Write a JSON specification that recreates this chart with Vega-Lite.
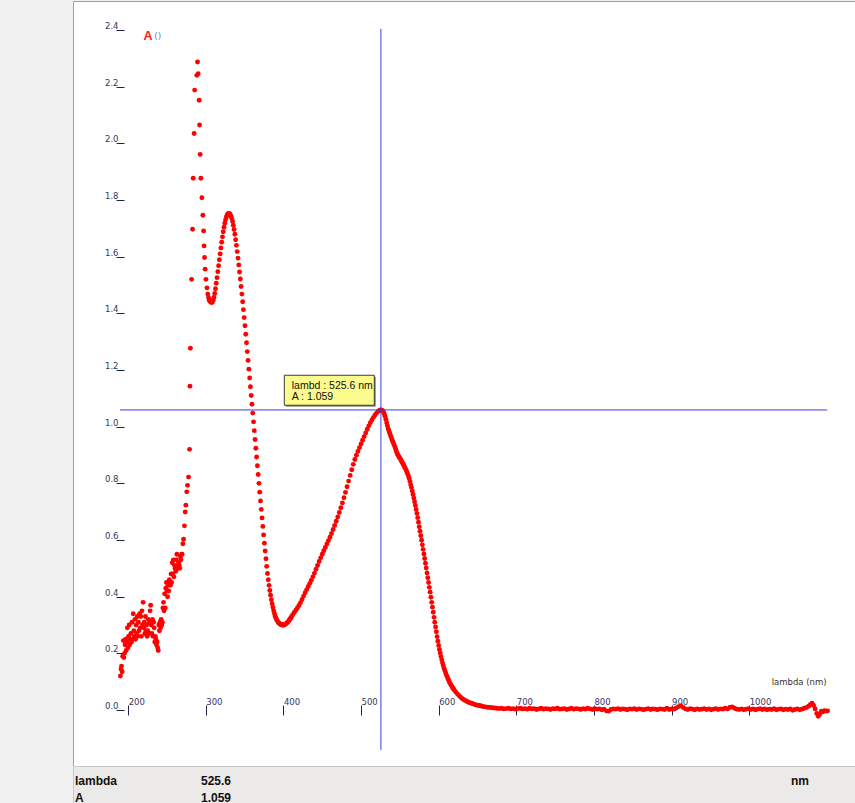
{
"$schema": "https://vega.github.io/schema/vega-lite/v6.json",
"background": "#f0f0f0",
"padding": {"left": 72, "top": 0, "right": 0, "bottom": 0},
"spacing": 0,
"bounds": "flush",
"config": {"view": {"stroke": null}, "font": "DejaVu Sans"},
"datasets": {
"spec": [
{"l":190,"a":0.12},{"l":190.8,"a":0.145},{"l":191.5,"a":0.155},{"l":192.3,"a":0.135},{"l":193,"a":0.19},{"l":193.8,"a":0.245},{"l":194.5,"a":0.185},{"l":195.3,"a":0.2},{"l":196,"a":0.23},{"l":196.8,"a":0.25},{"l":197.5,"a":0.21},{"l":198.3,"a":0.24},{"l":199,"a":0.29},{"l":199.8,"a":0.22},{"l":200.5,"a":0.26},{"l":201.3,"a":0.3},{"l":202,"a":0.23},{"l":202.8,"a":0.25},{"l":203.5,"a":0.27},{"l":204.3,"a":0.24},{"l":205,"a":0.31},{"l":205.8,"a":0.25},{"l":206.5,"a":0.34},{"l":207.3,"a":0.28},{"l":208,"a":0.26},{"l":208.8,"a":0.32},{"l":209.5,"a":0.25},{"l":210.3,"a":0.3},{"l":211,"a":0.27},{"l":211.8,"a":0.33},{"l":212.5,"a":0.26},{"l":213.3,"a":0.31},{"l":214,"a":0.28},{"l":214.8,"a":0.34},{"l":215.5,"a":0.29},{"l":216.3,"a":0.33},{"l":217,"a":0.26},{"l":217.8,"a":0.35},{"l":218.5,"a":0.3},{"l":219.3,"a":0.38},{"l":220,"a":0.29},{"l":220.8,"a":0.31},{"l":221.5,"a":0.27},{"l":222.3,"a":0.33},{"l":223,"a":0.28},{"l":223.8,"a":0.3},{"l":224.5,"a":0.26},{"l":225.3,"a":0.28},{"l":226,"a":0.32},{"l":226.8,"a":0.27},{"l":227.5,"a":0.31},{"l":228.3,"a":0.35},{"l":229,"a":0.37},{"l":229.8,"a":0.3},{"l":230.5,"a":0.27},{"l":231.3,"a":0.32},{"l":232,"a":0.26},{"l":232.8,"a":0.31},{"l":233.5,"a":0.29},{"l":234.3,"a":0.24},{"l":235,"a":0.26},{"l":235.8,"a":0.25},{"l":236.5,"a":0.23},{"l":237.3,"a":0.24},{"l":238,"a":0.22},{"l":238.8,"a":0.21},{"l":239.5,"a":0.3},{"l":240.3,"a":0.28},{"l":241,"a":0.31},{"l":241.8,"a":0.29},{"l":242.5,"a":0.32},{"l":243.3,"a":0.3},{"l":244,"a":0.31},{"l":244.8,"a":0.36},{"l":245.5,"a":0.38},{"l":246.3,"a":0.35},{"l":247,"a":0.41},{"l":247.8,"a":0.36},{"l":248.5,"a":0.43},{"l":249.3,"a":0.45},{"l":250,"a":0.42},{"l":250.8,"a":0.4},{"l":251.5,"a":0.44},{"l":252.3,"a":0.42},{"l":253,"a":0.46},{"l":253.8,"a":0.45},{"l":254.5,"a":0.44},{"l":255.3,"a":0.48},{"l":256,"a":0.45},{"l":256.8,"a":0.52},{"l":257.5,"a":0.48},{"l":258.3,"a":0.53},{"l":259,"a":0.47},{"l":259.8,"a":0.51},{"l":260.5,"a":0.5},{"l":261.3,"a":0.49},{"l":262,"a":0.53},{"l":262.8,"a":0.55},{"l":263.5,"a":0.51},{"l":264.3,"a":0.5},{"l":265,"a":0.52},{"l":265.8,"a":0.51},{"l":266.5,"a":0.5},{"l":267.3,"a":0.54},{"l":268,"a":0.53},{"l":268.8,"a":0.55},
{"l":269.5,"a":0.55},{"l":270.5,"a":0.587},{"l":271.4,"a":0.603},{"l":272.5,"a":0.65},{"l":273.5,"a":0.699},{"l":274.4,"a":0.723},{"l":275.5,"a":0.77},{"l":276.5,"a":0.793},{"l":277.8,"a":0.822},{"l":279.1,"a":0.92},{"l":279.6,"a":1.143},{"l":280.2,"a":1.277},{"l":281.7,"a":1.52},{"l":283,"a":1.697},{"l":283.8,"a":1.877},{"l":285,"a":2.035},{"l":285.7,"a":2.188},{"l":288.5,"a":2.24},{"l":289.4,"a":2.287},{"l":290.2,"a":2.246},{"l":291.5,"a":2.152},{"l":292,"a":2.065},{"l":292.8,"a":1.961},{"l":293.7,"a":1.877},{"l":295,"a":1.808},{"l":296.3,"a":1.746},{"l":297.2,"a":1.691},{"l":297.8,"a":1.638},{"l":298.4,"a":1.597},{"l":299.2,"a":1.556},{"l":300.2,"a":1.52},{"l":301.5,"a":1.49},{"l":302.6,"a":1.468},{"l":303.6,"a":1.455},{"l":304.6,"a":1.446},{"l":305.5,"a":1.442},
{"l":306.5,"a":1.44},{"l":307.5,"a":1.438},{"l":308.5,"a":1.44},{"l":309.5,"a":1.446},{"l":310.5,"a":1.456},{"l":311.5,"a":1.47},{"l":312.5,"a":1.487},{"l":313.5,"a":1.506},{"l":314.5,"a":1.526},{"l":315.5,"a":1.547},{"l":316.5,"a":1.568},{"l":317.5,"a":1.589},{"l":318.5,"a":1.61},{"l":319.5,"a":1.631},{"l":320.5,"a":1.651},{"l":321.5,"a":1.67},{"l":322.5,"a":1.688},{"l":323.5,"a":1.704},{"l":324.5,"a":1.718},{"l":325.5,"a":1.73},{"l":326.5,"a":1.74},{"l":327.5,"a":1.747},{"l":328.5,"a":1.751},{"l":329.5,"a":1.753},{"l":330.5,"a":1.752},{"l":331.5,"a":1.749},{"l":332.5,"a":1.743},{"l":333.5,"a":1.735},{"l":334.5,"a":1.724},{"l":335.5,"a":1.711},{"l":336.5,"a":1.696},{"l":337.5,"a":1.679},{"l":338.5,"a":1.66},{"l":339.5,"a":1.64},{"l":340.5,"a":1.618},{"l":341.5,"a":1.595},{"l":342.5,"a":1.571},{"l":343.5,"a":1.546},{"l":344.5,"a":1.521},{"l":345.5,"a":1.495},{"l":346.5,"a":1.468},{"l":347.5,"a":1.441},{"l":348.5,"a":1.413},{"l":349.5,"a":1.385},{"l":350.5,"a":1.356},{"l":351.5,"a":1.326},{"l":352.5,"a":1.296},{"l":353.5,"a":1.265},{"l":354.5,"a":1.234},{"l":355.5,"a":1.203},{"l":356.5,"a":1.172},{"l":357.5,"a":1.141},{"l":358.5,"a":1.11},{"l":359.5,"a":1.079},{"l":360.5,"a":1.048},{"l":361.5,"a":1.017},{"l":362.5,"a":0.986},{"l":363.5,"a":0.955},{"l":364.5,"a":0.924},{"l":365.5,"a":0.893},{"l":366.5,"a":0.862},{"l":367.5,"a":0.831},{"l":368.5,"a":0.8},{"l":369.5,"a":0.769},{"l":370.5,"a":0.738},{"l":371.5,"a":0.708},{"l":372.5,"a":0.678},{"l":373.5,"a":0.648},{"l":374.5,"a":0.618},{"l":375.5,"a":0.589},{"l":376.5,"a":0.561},{"l":377.5,"a":0.534},{"l":378.5,"a":0.507},{"l":379.5,"a":0.482},{"l":380.5,"a":0.46},{"l":381.5,"a":0.44},{"l":382.5,"a":0.422},{"l":383.5,"a":0.405},{"l":384.5,"a":0.389},{"l":385.5,"a":0.375},{"l":386.5,"a":0.362},{"l":387.5,"a":0.35},{"l":388.5,"a":0.34},{"l":389.5,"a":0.331},{"l":390.5,"a":0.324},{"l":391.5,"a":0.318},{"l":392.5,"a":0.313},{"l":393.5,"a":0.309},{"l":394.5,"a":0.306},{"l":395.5,"a":0.304},{"l":396.5,"a":0.302},{"l":397.5,"a":0.301},{"l":398.5,"a":0.3},{"l":399.5,"a":0.3},{"l":400.5,"a":0.3},{"l":401.5,"a":0.301},{"l":402.5,"a":0.303},{"l":403.5,"a":0.305},{"l":404.5,"a":0.307},{"l":405.5,"a":0.31},{"l":406.5,"a":0.313},{"l":407.5,"a":0.317},{"l":408.5,"a":0.321},{"l":409.5,"a":0.325},{"l":410.5,"a":0.329},
{"l":412,"a":0.336},{"l":414,"a":0.344},{"l":416,"a":0.352},{"l":418,"a":0.36},{"l":420,"a":0.369},{"l":422,"a":0.379},{"l":424,"a":0.39},{"l":426,"a":0.402},{"l":428,"a":0.414},{"l":430,"a":0.425},{"l":432,"a":0.436},{"l":434,"a":0.447},{"l":436,"a":0.458},{"l":438,"a":0.47},{"l":440,"a":0.483},{"l":442,"a":0.497},{"l":444,"a":0.51},{"l":446,"a":0.524},{"l":448,"a":0.537},{"l":450,"a":0.55},{"l":452,"a":0.562},{"l":454,"a":0.574},{"l":456,"a":0.586},{"l":458,"a":0.598},{"l":460,"a":0.61},{"l":462,"a":0.623},{"l":464,"a":0.637},{"l":466,"a":0.651},{"l":468,"a":0.666},{"l":470,"a":0.681},{"l":472,"a":0.697},{"l":474,"a":0.714},{"l":476,"a":0.731},{"l":478,"a":0.749},{"l":480,"a":0.768},{"l":482,"a":0.788},{"l":484,"a":0.808},{"l":486,"a":0.828},{"l":488,"a":0.848},{"l":490,"a":0.867},{"l":492,"a":0.884},{"l":494,"a":0.899},{"l":496,"a":0.913},{"l":498,"a":0.926},{"l":500,"a":0.939},{"l":502,"a":0.952},{"l":504,"a":0.965},{"l":506,"a":0.978},{"l":508,"a":0.991},{"l":510,"a":1.003},{"l":512,"a":1.014},{"l":514,"a":1.024},{"l":516,"a":1.033},{"l":518,"a":1.041},{"l":520,"a":1.048},{"l":522,"a":1.054},{"l":524,"a":1.058},{"l":525.6,"a":1.059},
{"l":527,"a":1.058},{"l":528,"a":1.055},{"l":529,"a":1.051},{"l":530,"a":1.045},{"l":531,"a":1.037},{"l":532,"a":1.026},{"l":533,"a":1.014},{"l":534,"a":1.003},{"l":535,"a":0.993},{"l":536,"a":0.985},{"l":537,"a":0.977},{"l":538,"a":0.969},{"l":539,"a":0.961},{"l":540,"a":0.953},{"l":541,"a":0.946},{"l":542,"a":0.94},{"l":543,"a":0.934},{"l":544,"a":0.926},{"l":545,"a":0.918},{"l":546,"a":0.91},{"l":547,"a":0.903},{"l":548,"a":0.898},{"l":549,"a":0.893},{"l":550,"a":0.889},{"l":551,"a":0.884},{"l":552,"a":0.879},{"l":553,"a":0.874},{"l":554,"a":0.869},{"l":555,"a":0.864},{"l":556,"a":0.858},{"l":557,"a":0.853},{"l":558,"a":0.847},{"l":559,"a":0.84},{"l":560,"a":0.833},{"l":561,"a":0.826},{"l":562,"a":0.818},{"l":563,"a":0.807},{"l":564,"a":0.795},{"l":565,"a":0.785},{"l":566,"a":0.773},{"l":567,"a":0.761},{"l":568,"a":0.748},{"l":569,"a":0.735},{"l":570,"a":0.722},{"l":571,"a":0.708},{"l":572,"a":0.694},{"l":573,"a":0.679},{"l":574,"a":0.663},{"l":575,"a":0.647},{"l":576,"a":0.631},{"l":577,"a":0.615},{"l":578,"a":0.599},{"l":579,"a":0.583},{"l":580,"a":0.567},{"l":581,"a":0.551},{"l":582,"a":0.535},{"l":583,"a":0.518},{"l":584,"a":0.501},{"l":585,"a":0.484},{"l":586,"a":0.467},{"l":587,"a":0.45},{"l":588,"a":0.433},{"l":589,"a":0.416},{"l":590,"a":0.398},{"l":591,"a":0.38},{"l":592,"a":0.363},{"l":593,"a":0.345},{"l":594,"a":0.327},{"l":595,"a":0.31},{"l":596,"a":0.293},{"l":597,"a":0.276},{"l":598,"a":0.259},{"l":599,"a":0.243},{"l":600,"a":0.228},{"l":601,"a":0.214},{"l":602,"a":0.201},{"l":603,"a":0.189},{"l":604,"a":0.177},{"l":605,"a":0.166},{"l":606,"a":0.156},{"l":607,"a":0.147},{"l":608,"a":0.139},{"l":609,"a":0.131},{"l":610,"a":0.124},{"l":611,"a":0.117},{"l":612,"a":0.11},{"l":613,"a":0.104},{"l":614,"a":0.098},{"l":615,"a":0.093},{"l":616,"a":0.088},{"l":617,"a":0.083},{"l":618,"a":0.079},{"l":619,"a":0.075},{"l":620,"a":0.071},{"l":622,"a":0.064},{"l":624,"a":0.057},{"l":626,"a":0.051},{"l":628,"a":0.046},{"l":630,"a":0.041},{"l":632,"a":0.037},{"l":634,"a":0.034},{"l":636,"a":0.031},{"l":638,"a":0.028},{"l":640,"a":0.026},{"l":642,"a":0.024},{"l":644,"a":0.022},{"l":646,"a":0.02},{"l":648,"a":0.018},{"l":650,"a":0.017},{"l":652,"a":0.016},{"l":654,"a":0.015},{"l":656,"a":0.013},{"l":658,"a":0.012},{"l":660,"a":0.011},{"l":663,"a":0.01},{"l":666,"a":0.009},{"l":669,"a":0.008},
{"l":672,"a":0.007},{"l":675,"a":0.006},{"l":678,"a":0.005},{"l":681,"a":0.006},{"l":684,"a":0.004},{"l":687,"a":0.005},{"l":690,"a":0.006},{"l":693,"a":0.004},{"l":696,"a":0.005},{"l":699,"a":0.003},{"l":702,"a":0.005},{"l":705,"a":0.006},{"l":708,"a":0.004},{"l":711,"a":0.005},{"l":714,"a":0.003},{"l":717,"a":0.006},{"l":720,"a":0.004},{"l":723,"a":0.005},{"l":726,"a":0.002},{"l":729,"a":0.004},{"l":732,"a":0.006},{"l":735,"a":0.003},{"l":738,"a":0.005},{"l":741,"a":0.004},{"l":744,"a":0.002},{"l":747,"a":0.005},{"l":750,"a":0.004},{"l":753,"a":0.006},{"l":756,"a":0.003},{"l":759,"a":0.004},{"l":762,"a":0.005},{"l":765,"a":0.002},{"l":768,"a":0.004},{"l":771,"a":0.006},{"l":774,"a":0.003},{"l":777,"a":0.005},{"l":780,"a":0.004},{"l":783,"a":0.002},{"l":786,"a":0.005},{"l":789,"a":0.003},{"l":792,"a":0.006},{"l":795,"a":0.004},{"l":798,"a":0.002},{"l":801,"a":0.005},{"l":804,"a":0.003},{"l":807,"a":0.004},{"l":810,"a":0.001},{"l":813,"a":0.003},{"l":816,"a":-0.003},{"l":819,"a":-0.004},{"l":822,"a":0.002},{"l":825,"a":0.004},{"l":828,"a":0.003},{"l":831,"a":0.005},{"l":834,"a":0.002},{"l":837,"a":0.004},{"l":840,"a":0.003},{"l":843,"a":0.001},{"l":846,"a":0.004},{"l":849,"a":0.003},{"l":852,"a":0.005},{"l":855,"a":0.002},{"l":858,"a":0.004},{"l":861,"a":0.003},{"l":864,"a":0.001},{"l":867,"a":0.003},{"l":870,"a":0.005},{"l":873,"a":0.002},{"l":876,"a":0.004},{"l":879,"a":0.003},{"l":882,"a":0.001},{"l":885,"a":0.004},{"l":888,"a":0.003},{"l":891,"a":0.002},{"l":894,"a":0.006},{"l":897,"a":0.002},{"l":900,"a":0.004},{"l":903,"a":0.003},{"l":906,"a":0.007},{"l":909,"a":0.012},{"l":912,"a":0.015},{"l":915,"a":0.009},{"l":918,"a":0.004},{"l":921,"a":0.002},{"l":924,"a":0.005},{"l":927,"a":0.003},{"l":930,"a":0.001},{"l":933,"a":0.004},{"l":936,"a":0.002},{"l":939,"a":0.003},{"l":942,"a":0.005},{"l":945,"a":0.002},{"l":948,"a":0.004},{"l":951,"a":0.001},{"l":954,"a":0.003},{"l":957,"a":0.005},{"l":960,"a":0.002},{"l":963,"a":0.004},{"l":966,"a":0.003},{"l":969,"a":0.006},{"l":972,"a":0.004},{"l":975,"a":0.009},{"l":978,"a":0.011},{"l":981,"a":0.006},{"l":984,"a":0.003},{"l":987,"a":0.002},{"l":990,"a":0.004},{"l":993,"a":0.001},{"l":996,"a":0.003},{"l":999,"a":0.005},{"l":1002,"a":0.002},{"l":1005,"a":0.004},{"l":1008,"a":0.001},{"l":1011,"a":0.003},{"l":1014,"a":0.005},{"l":1017,"a":0.002},{"l":1020,"a":0.004},{"l":1023,"a":0.001},{"l":1026,"a":0.003},{"l":1029,"a":0.002},{"l":1032,"a":0.005},{"l":1035,"a":0.001},{"l":1038,"a":0.003},{"l":1041,"a":0.004},{"l":1044,"a":0.001},{"l":1047,"a":0.003},{"l":1050,"a":0.002},{"l":1053,"a":0.004},{"l":1056,"a":-0.001},{"l":1059,"a":0.002},{"l":1062,"a":0.004},{"l":1065,"a":0.001},{"l":1068,"a":0.003},{"l":1071,"a":0.006},{"l":1074,"a":0.009},{"l":1077,"a":0.014},{"l":1079,"a":0.02},{"l":1081,"a":0.024},{"l":1083,"a":0.016},{"l":1085,"a":0.004},{"l":1087,"a":-0.012},{"l":1089,"a":-0.022},{"l":1091,"a":-0.014},{"l":1093,"a":-0.004},{"l":1095,"a":-0.006},{"l":1097,"a":-0.002},{"l":1099,"a":-0.004},{"l":1101,"a":-0.003}
],
"cursor": [{"l": 525.6, "a": 1.059}],
"table": [
{"ri": 0, "ci": 0, "t": "lambda"},
{"ri": 0, "ci": 1, "t": "525.6"},
{"ri": 0, "ci": 2, "t": "nm"},
{"ri": 1, "ci": 0, "t": "A"},
{"ri": 1, "ci": 1, "t": "1.059"}
]
},
"vconcat": [
{
"width": 783,
"height": 765,
"view": {"fill": "white", "stroke": "#a0a0a0"},
"title": {"text": "()", "anchor": "start", "frame": "group", "orient": "top", "offset": 0, "dx": 81.3, "dy": 46.5, "baseline": "alphabetic", "fontSize": 9, "fontWeight": "normal", "color": "#6f7fb0", "font": "DejaVu Sans"},
"encoding": {
"x": {"field": "l", "type": "quantitative",
 "scale": {"domain": [128.96, 1137.6], "nice": false, "zero": false},
 "axis": {"title": "lambda (nm)", "values": [200,300,400,500,600,700,800,900,1000], "format": "d", "domain": false, "grid": false, "offset": -61, "tickSize": 10, "tickColor": "#22224f", "tickWidth": 1, "labelAlign": "left", "labelBaseline": "alphabetic", "labelPadding": -10.5, "labelDx": 1.5, "labelFont": "DejaVu Sans", "labelFontSize": 8.5, "labelColor": "#36365e", "labelOverlap": false, "labelFlush": false, "titleFont": "DejaVu Sans", "titleFontSize": 8.5, "titleFontWeight": "normal", "titleColor": "#333333", "titleX": 753, "titleY": -24, "titleAlign": "right", "titleBaseline": "middle"}},
"y": {"field": "a", "type": "quantitative",
 "scale": {"domain": [-0.1976, 2.5024], "nice": false, "zero": false},
 "axis": {"title": "A", "titleColor": "#ff2020", "titleFont": "Liberation Sans", "titleFontSize": 12.5, "titleFontWeight": "bold", "titleAngle": 0, "titleAlign": "left", "titleBaseline": "alphabetic", "titleX": 19, "titleY": 38.5, "values": [0,0.2,0.4,0.6,0.8,1.0,1.2,1.4,1.6,1.8,2.0,2.2,2.4], "format": ".1f", "domain": false, "grid": false, "offset": -51, "tickSize": 8, "tickColor": "#22224f", "labelAlign": "right", "labelBaseline": "alphabetic", "labelPadding": -2, "labelOffset": -1.5, "labelFont": "DejaVu Sans", "labelFontSize": 8.5, "labelColor": "#36365e", "labelOverlap": false, "labelFlush": false}}
},
"layer": [
{"data": {"values": [{}]}, "mark": {"type": "rule", "color": "#1e1e50", "strokeWidth": 1.2},
 "encoding": {"x": {"datum": 189.5}, "y": {"datum": -0.141}, "y2": {"datum": 2.412}}},
{"data": {"values": [{}]}, "mark": {"type": "rule", "color": "#1e1e50", "strokeWidth": 1.2},
 "encoding": {"x": {"datum": 184.5}, "x2": {"datum": 1102}, "y": {"datum": 0}}},
{"data": {"values": [{}]}, "mark": {"type": "point", "shape": "M-1,1L0,0L1,1", "filled": false, "size": 30, "color": "#1e1e50", "strokeWidth": 1},
 "encoding": {"x": {"datum": 189.5}, "y": {"datum": 2.412}}},
{"data": {"values": [{}]}, "mark": {"type": "point", "shape": "M-1,-1L0,0L-1,1", "filled": false, "size": 30, "color": "#1e1e50", "strokeWidth": 1},
 "encoding": {"x": {"datum": 1102}, "y": {"datum": 0}}},
{"data": {"name": "spec"}, "mark": {"type": "circle", "size": 24, "color": "#ff0000", "opacity": 1}},
{"data": {"name": "cursor"}, "mark": {"type": "rule", "color": "#3c3ce0", "strokeWidth": 1},
 "encoding": {"y": {"datum": -0.141}, "y2": {"datum": 2.404}}},
{"data": {"name": "cursor"}, "mark": {"type": "rule", "color": "#3c3ce0", "strokeWidth": 1},
 "encoding": {"x": {"datum": 189.5}, "x2": {"datum": 1100.5}}},
{"data": {"name": "cursor"}, "mark": {"type": "rect", "color": "#8a8a8a", "xOffset": -95.1, "x2Offset": -5.1, "yOffset": -33.2, "y2Offset": -3.2},
 "encoding": {"x2": {"field": "l"}, "y2": {"field": "a"}}},
{"data": {"name": "cursor"}, "mark": {"type": "rect", "fill": "#fbfb8e", "stroke": "#3a3a3a", "strokeWidth": 1, "xOffset": -96.6, "x2Offset": -6.6, "yOffset": -34.7, "y2Offset": -4.7},
 "encoding": {"x2": {"field": "l"}, "y2": {"field": "a"}}},
{"data": {"name": "cursor"}, "mark": {"type": "text", "align": "left", "baseline": "alphabetic", "dx": -89.2, "dy": -20.7, "font": "Liberation Sans", "fontSize": 10.5, "color": "#111111"},
 "encoding": {"text": {"value": "lambd : 525.6 nm"}}},
{"data": {"name": "cursor"}, "mark": {"type": "text", "align": "left", "baseline": "alphabetic", "dx": -89.2, "dy": -10, "font": "Liberation Sans", "fontSize": 10.5, "color": "#111111"},
 "encoding": {"text": {"value": "A : 1.059"}}}
]
},
{
"width": 783,
"height": 38,
"view": {"fill": "#ece9e9", "stroke": "#c8c8c8"},
"data": {"name": "table"},
"mark": {"type": "text", "align": "left", "baseline": "alphabetic", "font": "Liberation Sans", "fontWeight": "bold", "fontSize": 12, "color": "#111111"},
"encoding": {
"x": {"field": "ci", "type": "quantitative", "scale": {"domain": [0, 1, 2], "range": [2, 128, 718], "zero": false, "nice": false}, "axis": null},
"y": {"field": "ri", "type": "quantitative", "scale": {"domain": [0, 1], "range": [18.5, 35.5], "zero": false, "nice": false}, "axis": null},
"text": {"field": "t"}
}
}
]
}
